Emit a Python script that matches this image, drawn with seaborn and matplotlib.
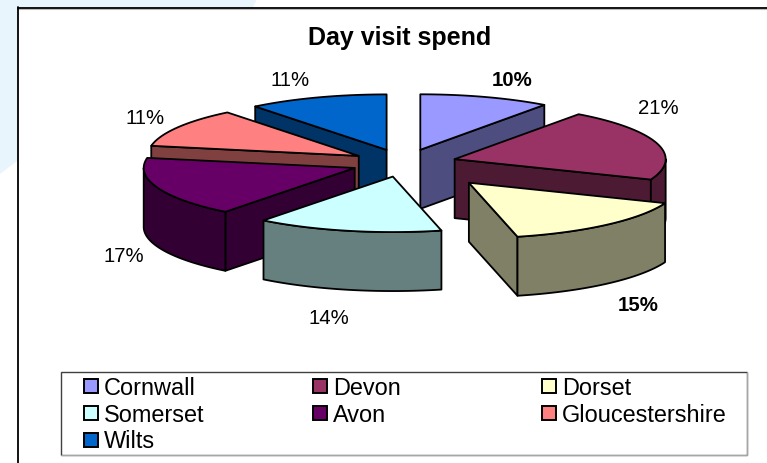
import numpy as np
import matplotlib
matplotlib.use("Agg")
import matplotlib.pyplot as plt
from matplotlib.patches import Polygon, Rectangle
import seaborn as sns

counties = ["Cornwall", "Devon", "Dorset", "Somerset", "Avon", "Gloucestershire", "Wilts"]
spend_share = [10.0, 21.0, 15.3, 14.2, 17.4, 11.4, 10.7]
bold_label = [True, False, True, False, False, False, False]
hex_colors = ["#9999FF", "#993366", "#FFFFCC", "#CCFFFF", "#660066", "#FF8080", "#0066CC"]

# layout in figure pixels
explode = [0.25, 0.25, 0.47, 0.25, 0.25, 0.25, 0.25]
label_x = [512, 658, 638, 329, 124, 145, 290]
label_y = [79, 107, 305, 318, 255, 117, 80]
cx, cy, rx, ry, depth = 404, 164, 211, 55.5, 59

sns.set_theme(style="white")
plt.rcParams["font.family"] = ["Liberation Sans", "DejaVu Sans"]
palette = sns.color_palette(hex_colors)
side_palette = [tuple(v * 0.5 for v in c) for c in palette]

fig = plt.figure(figsize=(7.67, 4.64), dpi=100)
ax = fig.add_axes([0, 0, 1, 1])
ax.set_xlim(0, 767)
ax.set_ylim(464, 0)
ax.axis("off")

# page background and chart frame
ax.add_patch(Polygon([(0, 0), (257, 0), (253, 8), (17, 162), (0, 175)], fc="#E9F5FC", ec="none"))
ax.add_patch(Rectangle((17, 8), 750, 456, fc="white", ec="none"))
ax.plot([17, 767], [9.9, 9.9], color="#BBBBBB", lw=0.8)
ax.plot([17.5, 767], [8.5, 8.5], color="black", lw=1.3)
ax.plot([17.5, 17.5], [8, 464], color="black", lw=1.3)


def arc(ax0, ay0, t0, t1, dy=0):
    t = np.radians(np.linspace(t0, t1, 80))
    return np.column_stack([ax0 + rx * np.sin(t), ay0 - ry * np.cos(t) + dy])


def radial(ax0, ay0, t):
    edge = arc(ax0, ay0, t, t)[0]
    return [(ax0, ay0), tuple(edge), (edge[0], edge[1] + depth), (ax0, ay0 + depth)]


ends = np.cumsum(spend_share) / np.sum(spend_share) * 360
starts = ends - np.array(spend_share) / np.sum(spend_share) * 360
mids = np.radians((starts + ends) / 2)
apex_x = cx + np.array(explode) * rx * np.sin(mids)
apex_y = cy - np.array(explode) * ry * np.cos(mids)

lw = 1.3
for i in np.argsort(apex_y, kind="stable"):
    t0, t1 = starts[i], ends[i]
    ax0, ay0 = apex_x[i], apex_y[i]
    side = side_palette[i]
    if 180 < t0 < 360:
        ax.add_patch(Polygon(radial(ax0, ay0, t0), fc=side, ec="black", lw=lw, joinstyle="round"))
    if 0 < t1 < 180:
        ax.add_patch(Polygon(radial(ax0, ay0, t1), fc=side, ec="black", lw=lw, joinstyle="round"))
    r0, r1 = max(t0, 90), min(t1, 270)
    if r1 > r0:
        rim = np.vstack([arc(ax0, ay0, r0, r1), arc(ax0, ay0, r1, r0, depth)])
        ax.add_patch(Polygon(rim, fc=side, ec="black", lw=lw, joinstyle="round"))
    top = np.vstack([[(ax0, ay0)], arc(ax0, ay0, t0, t1)])
    ax.add_patch(Polygon(top, fc=palette[i], ec="black", lw=lw, joinstyle="round"))

for x, y, share, bold in zip(label_x, label_y, spend_share, bold_label):
    ax.text(x, y + 1, f"{share:.0f}%", ha="center", va="center", fontsize=14.7,
            fontweight="bold" if bold else "normal", color="black")

ax.text(399.5, 38.5, "Day visit spend", ha="center", va="center", fontsize=18,
        fontweight="bold", color="black")

# legend box, three columns filled row by row
ax.add_patch(Rectangle((60.5, 372.5), 686, 83, fc="white", ec="#404040", lw=1.0))
ax.plot([61, 747, 747], [456.3, 456.3, 373], color="#BBBBBB", lw=0.6)
col_x = [84, 313, 542]
row_y = [387, 414, 440.5]
for i, name in enumerate(counties):
    sx, sy = col_x[i % 3], row_y[i // 3]
    ax.add_patch(Rectangle((sx, sy - 7), 13.5, 14, fc=palette[i], ec="black", lw=1.4))
    ax.text(sx + 20, sy + 1.5, name, ha="left", va="center", fontsize=16.9, color="black")

fig.savefig("out.png", dpi=100)
